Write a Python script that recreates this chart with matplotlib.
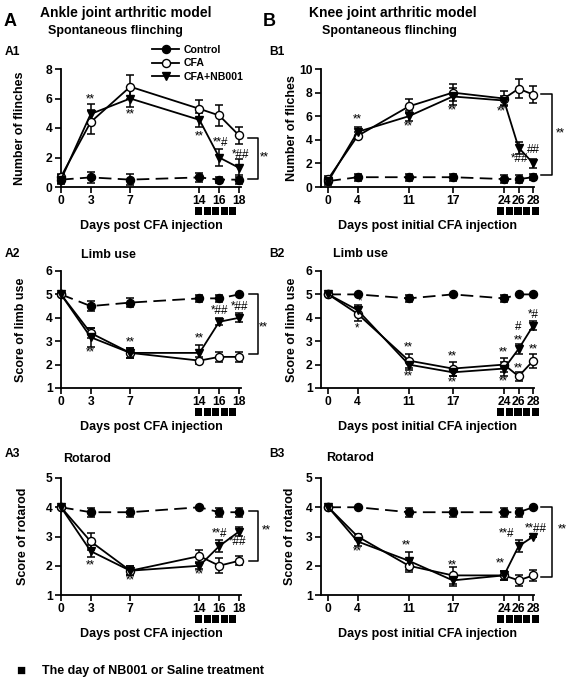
import numpy as np
import matplotlib
matplotlib.use("Agg")
import matplotlib.pyplot as plt
from matplotlib.lines import Line2D
from matplotlib.patches import Rectangle

plt.rcParams['font.family'] = ['Liberation Sans', 'DejaVu Sans']
plt.rcParams['font.weight'] = 'bold'

# ---- data ----
A_days = [0, 3, 7, 14, 16, 18]
B_days = [0, 4, 11, 17, 24, 26, 28]

A1_ctrl = [0.5, 0.65, 0.5, 0.65, 0.5, 0.5]
A1_ctrl_err = [0.3, 0.35, 0.35, 0.3, 0.2, 0.3]
A1_cfa = [0.7, 4.4, 6.8, 5.3, 4.85, 3.5]
A1_cfa_err = [0.2, 0.8, 0.8, 0.6, 0.7, 0.6]
A1_nb = [0.5, 4.95, 6.0, 4.55, 2.0, 1.3]
A1_nb_err = [0.2, 0.7, 0.6, 0.5, 0.6, 0.6]

A2_ctrl = [5.0, 4.5, 4.65, 4.83, 4.83, 5.0]
A2_ctrl_err = [0.0, 0.2, 0.2, 0.15, 0.15, 0.0]
A2_cfa = [5.0, 3.35, 2.5, 2.17, 2.33, 2.33]
A2_cfa_err = [0.0, 0.2, 0.2, 0.15, 0.2, 0.2]
A2_nb = [5.0, 3.17, 2.5, 2.5, 3.83, 4.0]
A2_nb_err = [0.0, 0.4, 0.2, 0.35, 0.15, 0.2]

A3_ctrl = [4.0, 3.83, 3.83, 4.0, 3.83, 3.83]
A3_ctrl_err = [0.0, 0.15, 0.15, 0.0, 0.15, 0.15]
A3_cfa = [4.0, 2.83, 1.83, 2.33, 2.0, 2.17]
A3_cfa_err = [0.0, 0.3, 0.15, 0.2, 0.25, 0.15]
A3_nb = [4.0, 2.5, 1.83, 2.0, 2.67, 3.17]
A3_nb_err = [0.0, 0.2, 0.15, 0.1, 0.2, 0.15]

B1_ctrl = [0.5, 0.83, 0.83, 0.83, 0.67, 0.67, 0.83]
B1_ctrl_err = [0.3, 0.3, 0.3, 0.3, 0.35, 0.35, 0.25]
B1_cfa = [0.7, 4.33, 6.83, 8.0, 7.5, 8.33, 7.83]
B1_cfa_err = [0.2, 0.3, 0.6, 0.7, 0.6, 0.8, 0.7]
B1_nb = [0.5, 4.67, 6.0, 7.67, 7.33, 3.33, 2.0]
B1_nb_err = [0.2, 0.4, 0.4, 0.7, 0.4, 0.5, 0.4]

B2_ctrl = [5.0, 5.0, 4.83, 5.0, 4.83, 5.0, 5.0]
B2_ctrl_err = [0.0, 0.0, 0.15, 0.0, 0.15, 0.0, 0.0]
B2_cfa = [5.0, 4.17, 2.17, 1.83, 2.0, 1.5, 2.17]
B2_cfa_err = [0.0, 0.3, 0.3, 0.3, 0.3, 0.2, 0.3]
B2_nb = [5.0, 4.33, 2.0, 1.67, 1.83, 2.67, 3.67]
B2_nb_err = [0.0, 0.2, 0.25, 0.15, 0.3, 0.2, 0.2]

B3_ctrl = [4.0, 4.0, 3.83, 3.83, 3.83, 3.83, 4.0]
B3_ctrl_err = [0.0, 0.0, 0.15, 0.15, 0.15, 0.15, 0.0]
B3_cfa = [4.0, 3.0, 2.0, 1.67, 1.67, 1.5, 1.67]
B3_cfa_err = [0.0, 0.1, 0.2, 0.3, 0.15, 0.2, 0.2]
B3_nb = [4.0, 2.83, 2.17, 1.5, 1.67, 2.67, 3.0]
B3_nb_err = [0.0, 0.15, 0.3, 0.2, 0.15, 0.2, 0.0]

# significance marks: (day, value, text)
A1_marks = [(3, 5.95, "**"), (7, 4.95, "**"), (14, 3.45, "**"), (16.1, 3.0, "**#"), (18.2, 2.2, "*##")]
A2_marks = [(3, 2.5, "**"), (7, 2.95, "**"), (14, 3.1, "**"), (16, 4.3, "*##"), (18.1, 4.45, "*##")]
A3_marks = [(3, 2.02, "**"), (7, 1.49, "**"), (14, 1.7, "**"), (16, 3.07, "**#"), (17.9, 2.82, "*##")]
B1_marks = [(4, 5.7, "**"), (11, 5.15, "**"), (17, 6.5, "**"), (23.6, 6.37, "**"), (26.2, 2.4, "*##"), (28, 3.1, "##")]
B2_marks = [(4.4, 4.68, "*"), (4, 3.55, "*"), (11, 2.74, "**"), (11, 1.5, "**"), (17, 2.35, "**"),
            (17, 1.24, "**"), (23.9, 2.52, "**"), (23.9, 1.28, "**"), (26, 1.85, "**"), (26, 3.6, "#"),
            (26, 3.05, "**"), (28, 4.14, "*#"), (28, 2.66, "**")]
B3_marks = [(4, 2.48, "**"), (10.7, 2.7, "**"), (17, 2.02, "**"), (23.5, 2.08, "**"), (24.4, 3.07, "**#"), (28.4, 3.25, "**##")]

# bracket: (x_start, x_end, y_top, y_bottom, label_x, label_y)
A1_bracket = (18.9, 19.9, 3.33, 0.57, 20.6, 2.0)
A2_bracket = (19.0, 19.9, 5.0, 2.45, 20.5, 3.6)
A3_bracket = (19.0, 19.9, 3.86, 2.17, 20.8, 3.2)
B1_bracket = (29.0, 30.5, 7.85, 1.05, 31.7, 4.5)
B3_bracket = (29.0, 30.6, 4.0, 1.61, 32.0, 3.25)

# treatment squares (5 days): left edge, step, width in day units
A_treat = (13.55, 0.86, 0.74)
B_treat = (23.05, 1.18, 1.0)

fig = plt.figure(figsize=(5.67, 6.79), dpi=100)
W, H = 567.0, 679.0


def make_ax(left, right, top, bottom):
    return fig.add_axes([left / W, 1 - bottom / H, (right - left) / W, (bottom - top) / H])


def draw_panel(ax, days, ctrl, ctrl_e, cfa, cfa_e, nb, nb_e, xlim, ylim, yticks,
               ylabel, xlabel, ylab_x, marks, bracket, treat):
    kw = dict(color='black', capsize=3, elinewidth=1.1, capthick=1.1, lw=1.3,
              markersize=5.8, clip_on=False, zorder=3)
    ax.errorbar(days, ctrl, yerr=ctrl_e, fmt='-o', dashes=(7, 3.5),
                markerfacecolor='black', label='Control', **kw)
    ax.errorbar(days, cfa, yerr=cfa_e, fmt='-o', markerfacecolor='white',
                label='CFA', **kw)
    ax.errorbar(days, nb, yerr=nb_e, fmt='-v', markerfacecolor='black',
                label='CFA+NB001', **kw)
    ax.set_xlim(*xlim)
    ax.set_ylim(*ylim)
    ax.set_xticks(days)
    ax.set_yticks(yticks)
    for s in ['top', 'right']:
        ax.spines[s].set_visible(False)
    for s in ['left', 'bottom']:
        ax.spines[s].set_linewidth(1.3)
    ax.tick_params(direction='out', length=4, width=1.2, labelsize=8.7, pad=2)
    for lab in ax.get_xticklabels() + ax.get_yticklabels():
        lab.set_fontweight('bold')
    ax.set_ylabel(ylabel, fontsize=9, fontweight='bold')
    ax.yaxis.set_label_coords(ylab_x, 0.5)
    ax.yaxis.label.set_va('center')
    ax.set_xlabel(xlabel, fontsize=9, fontweight='bold')
    ax.xaxis.set_label_coords(0.5, -0.28)
    for x, y, t in marks:
        ax.text(x, y, t, ha='center', va='center', fontsize=8.4, fontweight='normal')
    if bracket is not None:
        x0, x1, yt, yb, lx, ly = bracket
        ax.plot([x0, x1, x1, x0], [yt, yt, yb, yb], color='black', lw=1.1, clip_on=False)
        ax.text(lx, ly, "**", ha='center', va='center', fontsize=8.4, fontweight='normal')
    x_start, step, width = treat
    for i in range(5):
        ax.add_patch(Rectangle((x_start + i * step, -0.24), width, 0.072,
                               transform=ax.get_xaxis_transform(), facecolor='black',
                               edgecolor='none', clip_on=False))


A_xl = "Days post CFA injection"
B_xl = "Days post initial CFA injection"

axA1 = make_ax(61, 241, 69, 187)
draw_panel(axA1, A_days, A1_ctrl, A1_ctrl_err, A1_cfa, A1_cfa_err, A1_nb, A1_nb_err,
           (0, 18.2), (0, 8), [0, 2, 4, 6, 8], "Number of flinches", A_xl, -0.23,
           A1_marks, A1_bracket, A_treat)
axA2 = make_ax(61, 241, 271, 388)
draw_panel(axA2, A_days, A2_ctrl, A2_ctrl_err, A2_cfa, A2_cfa_err, A2_nb, A2_nb_err,
           (0, 18.2), (1, 6), [1, 2, 3, 4, 5, 6], "Score of limb use", A_xl, -0.22,
           A2_marks, A2_bracket, A_treat)
axA3 = make_ax(61, 241, 478, 595)
draw_panel(axA3, A_days, A3_ctrl, A3_ctrl_err, A3_cfa, A3_cfa_err, A3_nb, A3_nb_err,
           (0, 18.2), (1, 5), [1, 2, 3, 4, 5], "Score of rotarod", A_xl, -0.21,
           A3_marks, A3_bracket, A_treat)

axB1 = make_ax(321, 534, 69, 187)
draw_panel(axB1, B_days, B1_ctrl, B1_ctrl_err, B1_cfa, B1_cfa_err, B1_nb, B1_nb_err,
           (-1, 28.1), (0, 10), [0, 2, 4, 6, 8, 10], "Number of fliches", B_xl, -0.135,
           B1_marks, B1_bracket, B_treat)
axB2 = make_ax(321, 534, 271, 388)
draw_panel(axB2, B_days, B2_ctrl, B2_ctrl_err, B2_cfa, B2_cfa_err, B2_nb, B2_nb_err,
           (-1, 28.1), (1, 6), [1, 2, 3, 4, 5, 6], "Score of limb use", B_xl, -0.135,
           B2_marks, None, B_treat)
axB3 = make_ax(321, 534, 478, 595)
draw_panel(axB3, B_days, B3_ctrl, B3_ctrl_err, B3_cfa, B3_cfa_err, B3_nb, B3_nb_err,
           (-1, 28.1), (1, 5), [1, 2, 3, 4, 5], "Score of rotarod", B_xl, -0.145,
           B3_marks, B3_bracket, B_treat)

# legend
handles = [
    Line2D([], [], color='black', lw=1.3, marker='o', markersize=5.8, markerfacecolor='black'),
    Line2D([], [], color='black', lw=1.3, marker='o', markersize=5.8, markerfacecolor='white'),
    Line2D([], [], color='black', lw=1.3, marker='v', markersize=5.8, markerfacecolor='black'),
]
fig.legend(handles, ['Control', 'CFA', 'CFA+NB001'], loc='upper left',
           bbox_to_anchor=(152 / W, 1 - 45 / H), frameon=False,
           handlelength=2.6, handletextpad=0.35, labelspacing=0.32,
           borderpad=0, borderaxespad=0, prop={'weight': 'bold', 'size': 7.6})


def ftext(x, y, s, size, **kw):
    fig.text(x / W, 1 - y / H, s, fontsize=size, fontweight='bold', va='center', **kw)


ftext(4, 21, "A", 13)
ftext(263, 21, "B", 13)
ftext(40, 13, "Ankle joint arthritic model", 10)
ftext(309, 13, "Knee joint arthritic model", 10)
ftext(48, 31, "Spontaneous flinching", 9)
ftext(322, 31, "Spontaneous flinching", 9)
ftext(5, 52, "A1", 8.7)
ftext(269, 52, "B1", 8.7)
ftext(5, 254, "A2", 8.7)
ftext(269, 254, "B2", 8.7)
ftext(81, 255, "Limb use", 9)
ftext(333, 254, "Limb use", 9)
ftext(5, 454, "A3", 8.7)
ftext(269, 454, "B3", 8.7)
ftext(63, 459, "Rotarod", 9)
ftext(326, 458, "Rotarod", 9)
ftext(16, 671, "\u25a0", 11)
ftext(42, 671, "The day of NB001 or Saline treatment", 9)

fig.savefig("out.png", dpi=100)
